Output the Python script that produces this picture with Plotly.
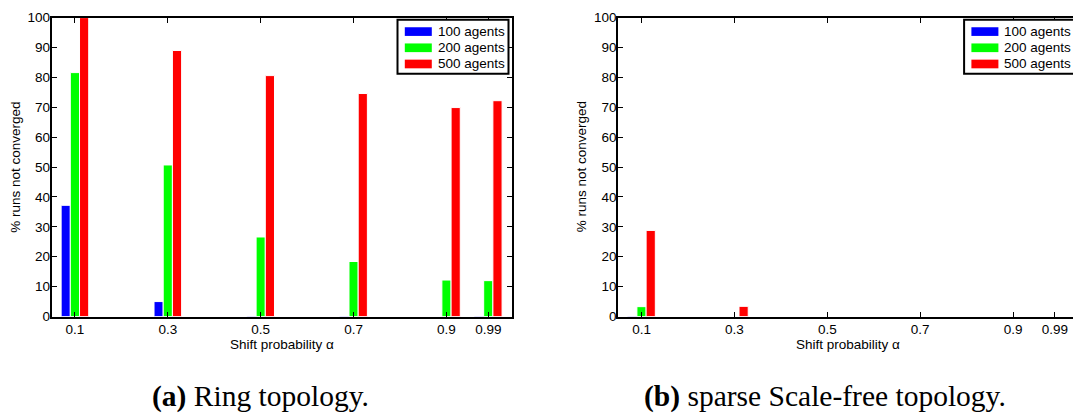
import plotly.graph_objects as go

# ---------------- data ----------------
alphas = [0.1, 0.3, 0.5, 0.7, 0.9, 0.99]
tick_labels = ["0.1", "0.3", "0.5", "0.7", "0.9", "0.99"]
series_names = ["100 agents", "200 agents", "500 agents"]
series_colors = ["#0000ff", "#00ff00", "#ff0000"]

ring_100 = [37.2, 5.0, 0.2, 0.2, 0.0, 0.2]
ring_200 = [81.6, 50.7, 26.6, 18.4, 12.2, 12.0]
ring_500 = [100.0, 89.0, 80.6, 74.6, 69.9, 72.2]

sf_100 = [0.2, 0.0, 0.0, 0.0, 0.0, 0.0]
sf_200 = [3.3, 0.0, 0.0, 0.0, 0.0, 0.0]
sf_500 = [28.8, 3.4, 0.0, 0.0, 0.0, 0.0]

y_ticks = [0, 10, 20, 30, 40, 50, 60, 70, 80, 90, 100]
x_title = "Shift probability α"
y_title = "% runs not converged"
captions = ["<b>(a)</b> Ring topology.", "<b>(b)</b> sparse Scale-free topology."]

# ---------------- geometry (pixels) ----------------
W, H = 1073, 419
L1, R1 = 51.7, 511.5
L2 = 618.3
TOP, BOT = 11.0, 321.0
px_per_unit = (R1 - L1) / (1.04 - 0.05)
x_range1 = [0.05, 1.04]
x_range2 = [0.05, 0.05 + (W - L2) / px_per_unit]
R2 = L2 + (R1 - L1)

def px(x):
    return x / W

def py(y):
    return 1 - y / H

SANS = "Liberation Sans, Arial, sans-serif"
SERIF = "Liberation Serif, Times New Roman, serif"
FS = 13.5

fig = go.Figure()
for vals, name, col in zip([ring_100, ring_200, ring_500], series_names, series_colors):
    fig.add_trace(go.Bar(x=alphas, y=vals, name=name, marker=dict(color=col, line=dict(color="white", width=1)),
                         xaxis="x", yaxis="y", showlegend=False))
for vals, name, col in zip([sf_100, sf_200, sf_500], series_names, series_colors):
    fig.add_trace(go.Bar(x=alphas, y=vals, name=name, marker=dict(color=col, line=dict(color="white", width=1)),
                         xaxis="x2", yaxis="y2", showlegend=False))

common_x = dict(tickmode="array", tickvals=alphas, ticktext=tick_labels, ticks="inside", ticklen=5,
                tickcolor="black", tickwidth=1, showline=True, linecolor="black", linewidth=2,
                showgrid=False, zeroline=False, tickfont=dict(family=SANS, size=FS, color="black"),
                mirror="ticks", ticklabelstandoff=-1)
common_y = dict(tickmode="array", tickvals=y_ticks, ticks="inside", ticklen=5, tickcolor="black", tickwidth=1,
                showline=True, linecolor="black", linewidth=2, showgrid=False, zeroline=False,
                range=[0, 100], tickfont=dict(family=SANS, size=FS, color="black"),
                ticklabelstandoff=-3)

ydom = [py(BOT), py(TOP)]
fig.update_layout(
    width=W, height=H, margin=dict(l=0, r=0, t=0, b=0),
    paper_bgcolor="white", plot_bgcolor="white",
    barmode="group", bargap=0.34, bargroupgap=0.0,
    xaxis=dict(domain=[px(L1), px(R1)], range=x_range1, anchor="y", **common_x),
    yaxis=dict(domain=ydom, anchor="x", mirror="ticks", **common_y),
    xaxis2=dict(domain=[px(L2), 1.0], range=x_range2, anchor="y2", **common_x),
    yaxis2=dict(domain=ydom, anchor="x2", mirror=False, **common_y),
)

shapes = []
annotations = []

# axis titles
for (l, r) in [(L1, R1), (L2, R2)]:
    annotations.append(dict(text=x_title, xref="paper", yref="paper", x=px((l + r) / 2), y=py(350),
                            xanchor="center", yanchor="middle", showarrow=False,
                            font=dict(family=SANS, size=FS, color="black")))
    annotations.append(dict(text=y_title, xref="paper", yref="paper", x=px(l - 37), y=py((TOP + BOT) / 2),
                            xanchor="center", yanchor="middle", showarrow=False, textangle=-90,
                            font=dict(family=SANS, size=FS, color="black")))

# custom legends
for r_axis in [R1, R2]:
    lr = r_axis - 3
    ll = lr - 111
    lt, lb = 13.3, 69.3
    shapes.append(dict(type="rect", xref="paper", yref="paper", x0=px(ll), x1=px(lr), y0=py(lb), y1=py(lt),
                       line=dict(color="black", width=2), fillcolor="white", layer="above"))
    for i, (name, col) in enumerate(zip(series_names, series_colors)):
        cy = lt + 12.2 + i * 16.8
        shapes.append(dict(type="rect", xref="paper", yref="paper", x0=px(ll + 7.3), x1=px(ll + 34.3),
                           y0=py(cy + 4.5), y1=py(cy - 4.5), line=dict(width=0), fillcolor=col, layer="above"))
        annotations.append(dict(text=name, xref="paper", yref="paper", x=px(ll + 38.3), y=py(cy),
                                xanchor="left", yanchor="middle", showarrow=False,
                                font=dict(family=SANS, size=FS, color="black")))

# captions
for cx, cap in zip([260, 825], captions):
    annotations.append(dict(text=cap, xref="paper", yref="paper", x=px(cx), y=py(404),
                            xanchor="center", yanchor="middle", showarrow=False,
                            font=dict(family=SERIF, size=29.5, color="black")))

fig.update_layout(shapes=shapes, annotations=annotations)
fig.write_html("out.html", config={"displayModeBar": False},
               post_script="document.body.style.margin='0';document.body.style.overflow='hidden';")
